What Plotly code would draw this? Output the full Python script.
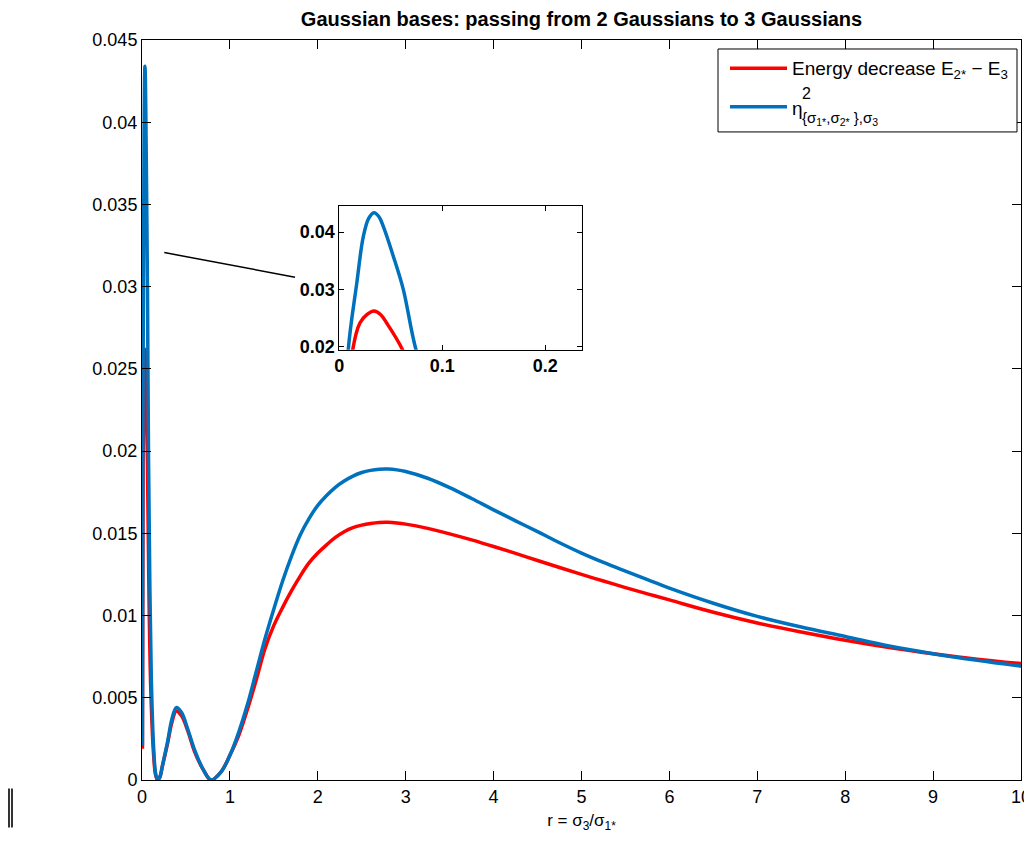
import plotly.graph_objects as go

# ---------------- data ----------------
r_energy = [0.005, 0.013, 0.020, 0.027, 0.0337, 0.040, 0.046, 0.0615, 0.08, 0.10, 0.13, 0.155, 0.178,
            0.205, 0.23, 0.29, 0.34, 0.39, 0.45, 0.52, 0.60, 0.70, 0.785, 0.90, 1.0,
            1.1, 1.2, 1.3, 1.4, 1.5, 1.6, 1.7, 1.8, 1.9, 2.0, 2.1, 2.2, 2.3, 2.4, 2.5, 2.6,
            2.7, 2.8, 2.9, 3.0, 3.25, 3.5, 3.75, 4.0, 4.25, 4.5, 4.75, 5.0, 5.25, 5.5, 5.75, 6.0,
            6.5, 7.0, 7.5, 8.0, 8.5, 9.0, 9.5, 10.0]
energy = [0.0019, 0.0194, 0.0241, 0.0256, 0.0262, 0.0256, 0.0241, 0.0194, 0.0110, 0.0055, 0.0017,
          0.0003, 0.0,
          0.0002, 0.0008, 0.0022, 0.0035, 0.0042, 0.0039, 0.0030, 0.0017, 0.0006, 0.0, 0.0005, 0.0015,
          0.0027, 0.0043, 0.0061, 0.0080, 0.0094, 0.0105, 0.0115, 0.0124, 0.0132, 0.0138, 0.0143,
          0.01475, 0.0151, 0.01535, 0.01550, 0.01560, 0.01566, 0.01567, 0.01563, 0.01556,
          0.01530, 0.01497, 0.01460, 0.01420, 0.01378, 0.01335, 0.01292,
          0.01250, 0.01210, 0.01170, 0.01132, 0.01095, 0.01020, 0.00955, 0.00900, 0.00850, 0.00806,
          0.00768, 0.00735, 0.00708]

r_eta = [0.005, 0.0087, 0.0169, 0.0233, 0.0285, 0.0337, 0.0385, 0.0427, 0.0524, 0.0621, 0.0745,
         0.09, 0.106, 0.13, 0.155, 0.178, 0.205, 0.23, 0.29, 0.34, 0.39, 0.45, 0.52, 0.60, 0.70, 0.785,
         0.90, 1.0, 1.1, 1.2, 1.3, 1.4, 1.5, 1.6, 1.7, 1.8, 1.9, 2.0, 2.1, 2.2, 2.3, 2.4, 2.5, 2.6,
         2.7, 2.8, 2.9, 3.0, 3.25, 3.5, 3.75, 4.0, 4.25, 4.5, 4.75, 5.0, 5.25, 5.5, 5.75, 6.0,
         6.5, 7.0, 7.5, 8.0, 8.5, 9.0, 9.5, 10.0]
eta = [0.0021, 0.0194, 0.0310, 0.0392, 0.0424, 0.0434, 0.0427, 0.0410, 0.0358, 0.0300, 0.0194,
       0.0115, 0.0062, 0.0022, 0.0004, 0.0, 0.0002, 0.0008, 0.0023, 0.0037, 0.0044, 0.0041, 0.0031,
       0.0018, 0.0006, 0.0,
       0.0005, 0.0015, 0.0029, 0.0046, 0.0066, 0.0086, 0.0104, 0.0121, 0.0136, 0.0149, 0.0159,
       0.0167, 0.0173, 0.0178, 0.01818, 0.01848, 0.01870, 0.01883, 0.01890, 0.01891, 0.01886,
       0.01876, 0.01835, 0.01778, 0.01712, 0.01643, 0.01576, 0.01510, 0.01443, 0.01380, 0.01323,
       0.01270, 0.01218, 0.01167, 0.01075, 0.00995, 0.00930, 0.00873, 0.00815, 0.00768, 0.00728,
       0.00692]

main_xticks = list(range(0, 11))
main_yticks = [0, 0.005, 0.01, 0.015, 0.02, 0.025, 0.03, 0.035, 0.04, 0.045]
main_yticklabels = ["0", "0.005", "0.01", "0.015", "0.02", "0.025", "0.03", "0.035", "0.04", "0.045"]
inset_xticks = [0, 0.1, 0.2]
inset_xticklabels = ["0", "0.1", "0.2"]
inset_yticks = [0.02, 0.03, 0.04]
inset_yticklabels = ["0.02", "0.03", "0.04"]

title_text = "Gaussian bases: passing from 2 Gaussians to 3 Gaussians"
xlabel_text = "r = σ<sub>3</sub>/σ<sub>1*</sub>"
name_energy = "Energy decrease E<sub>2*</sub> − E<sub>3</sub>"
name_eta = "η<sup>2</sup><sub>{σ1*,σ2* },σ3</sub>"

RED = "#ff0000"
BLUE = "#0072bd"
FONT = "Liberation Sans, Arial, Helvetica, sans-serif"

# ---------------- layout helpers ----------------
# The page body has an 8px margin, so the figure is drawn 8px in from the
# window's top-left corner; all positions below are given in window pixels.
OFF = 8
W, H = 1032 - OFF, 841 - OFF
PL, PR, PT, PB = 142, 1021, 40, 780.5          # plot area in window pixels
L, R, T, B = PL - OFF, PR - OFF, PT - OFF, PB - OFF


def px(x):
    return (x - PL) / (PR - PL)


def py(y):
    return (PB - y) / (PB - PT)


fig = go.Figure()

for (xs, ys, col, nm, xa, ya) in [
    (r_energy, energy, RED, name_energy, "x", "y"),
    (r_eta, eta, BLUE, name_eta, "x", "y"),
    (r_energy, energy, RED, name_energy, "x2", "y2"),
    (r_eta, eta, BLUE, name_eta, "x2", "y2"),
]:
    fig.add_trace(go.Scatter(
        x=xs, y=ys, mode="lines", name=nm, showlegend=False,
        line=dict(color=col, width=3.5, shape="spline", smoothing=1.0),
        xaxis=xa, yaxis=ya, hoverinfo="skip"))

axis_common = dict(showgrid=False, zeroline=False, showline=True, linecolor="black",
                   linewidth=1, mirror="allticks", ticks="inside", tickcolor="black",
                   automargin=False)

fig.update_layout(
    width=W, height=H,
    margin=dict(l=L, r=W - R, t=T, b=H - B, pad=0, autoexpand=False),
    paper_bgcolor="white", plot_bgcolor="white",
    font=dict(family=FONT, size=18, color="black"),
    title=dict(text="<b>" + title_text + "</b>", x=((PL + PR) / 2 - OFF) / W, xanchor="center",
               y=1 - (19 - OFF) / H, yanchor="middle", font=dict(size=20, family=FONT)),
    xaxis=dict(range=[0, 10], tickvals=main_xticks, ticklen=9, domain=[0, 1],
               title=dict(text=xlabel_text, font=dict(size=17), standoff=8),
               tickfont=dict(size=18), **axis_common),
    yaxis=dict(range=[0, 0.045], tickvals=main_yticks, ticktext=main_yticklabels,
               ticklen=9, domain=[0, 1], tickfont=dict(size=18), **axis_common),
    xaxis2=dict(range=[0, 0.2353], tickvals=inset_xticks, ticktext=inset_xticklabels,
                domain=[px(339.3), px(581.7)], anchor="y2", ticklen=5,
                tickfont=dict(size=18, family=FONT, weight="bold"), **axis_common),
    yaxis2=dict(range=[0.01942, 0.04465], tickvals=inset_yticks, ticktext=inset_yticklabels,
                domain=[py(350), py(205.7)], anchor="x2", ticklen=5,
                tickfont=dict(size=18, family=FONT, weight="bold"), **axis_common),
)

shapes = []
# inset grey background
shapes.append(dict(type="rect", xref="paper", yref="paper",
                   x0=px(339.3), x1=px(581.7), y0=py(350), y1=py(205.7),
                   fillcolor="#e6e6e6", line=dict(width=0), layer="below"))
# connector line
shapes.append(dict(type="line", xref="paper", yref="paper",
                   x0=px(164.3), y0=py(252.7), x1=px(295), y1=py(277.3),
                   line=dict(color="black", width=1.5)))
# legend box
shapes.append(dict(type="rect", xref="paper", yref="paper",
                   x0=px(718), x1=px(1017), y0=py(132), y1=py(49),
                   fillcolor="white", line=dict(color="black", width=1)))
shapes.append(dict(type="line", xref="paper", yref="paper",
                   x0=px(730), x1=px(787), y0=py(68.3), y1=py(68.3),
                   line=dict(color=RED, width=3.5)))
shapes.append(dict(type="line", xref="paper", yref="paper",
                   x0=px(730), x1=px(787), y0=py(106.7), y1=py(106.7),
                   line=dict(color=BLUE, width=3.5)))
# stray mark at the lower left of the figure
for xx in (9, 12):
    shapes.append(dict(type="line", xref="paper", yref="paper",
                       x0=px(xx), x1=px(xx), y0=py(789), y1=py(828),
                       line=dict(color="black", width=1.6)))
fig.update_layout(shapes=shapes)

annotations = [
    dict(text=name_energy, xref="paper", yref="paper", x=px(790), y=py(70),
         xanchor="left", yanchor="middle", showarrow=False, font=dict(size=19)),
    dict(text="η", xref="paper", yref="paper", x=px(790), y=py(109),
         xanchor="left", yanchor="middle", showarrow=False, font=dict(size=19)),
    dict(text="2", xref="paper", yref="paper", x=px(800), y=py(94),
         xanchor="left", yanchor="middle", showarrow=False, font=dict(size=16)),
    dict(text="{σ<sub>1*</sub>,σ<sub>2*</sub> },σ<sub>3</sub>", xref="paper", yref="paper",
         x=px(800), y=py(119), xanchor="left", yanchor="middle", showarrow=False,
         font=dict(size=15)),
]
fig.update_layout(annotations=annotations)

fig.write_html("out.html")
